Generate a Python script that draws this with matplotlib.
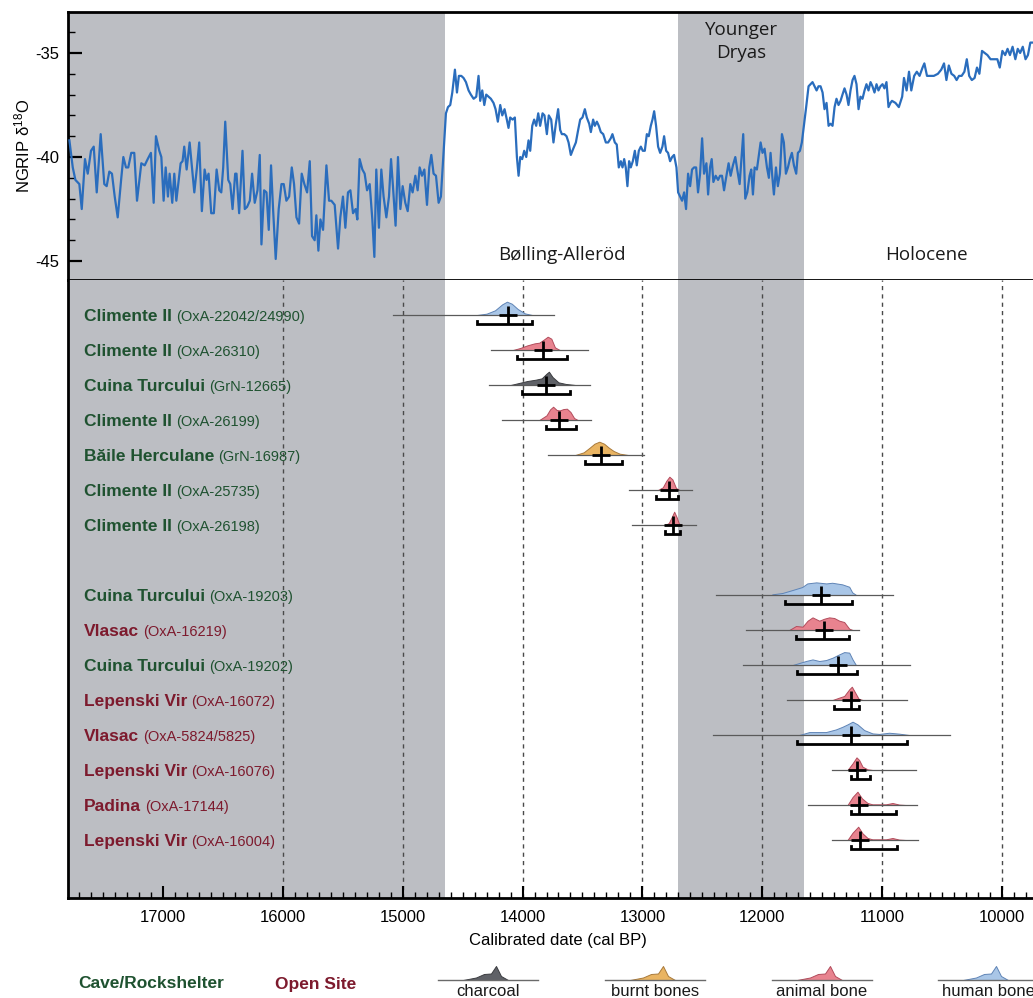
import matplotlib
matplotlib.use("Agg")
import matplotlib.pyplot as plt
from matplotlib.ticker import MultipleLocator, FixedLocator
import matplotlib.transforms as mtransforms

plt.rcParams['axes.unicode_minus'] = False

# NGRIP d18O record (cal BP, per mil)
ngrip_age = [
    17780, 17752, 17730, 17697, 17677, 17650, 17627, 17600, 17577, 17552,
    17519, 17489, 17469, 17447, 17425, 17402, 17377, 17347, 17330, 17308,
    17289, 17264, 17239, 17216, 17180, 17152, 17127, 17100, 17077, 17058,
    17030, 17013, 16994, 16977, 16958, 16944, 16922, 16905, 16888, 16852,
    16836, 16822, 16802, 16777, 16738, 16716, 16697, 16675, 16652, 16636,
    16619, 16597, 16575, 16552, 16530, 16513, 16497, 16480, 16455, 16438,
    16419, 16397, 16386, 16364, 16336, 16317, 16298, 16275, 16256, 16234,
    16211, 16192, 16178, 16156, 16136, 16117, 16098, 16081, 16059, 16034,
    16011, 15992, 15970, 15947, 15925, 15906, 15886, 15864, 15842, 15820,
    15797, 15775, 15756, 15734, 15720, 15703, 15686, 15664, 15636, 15614,
    15595, 15567, 15539, 15520, 15498, 15478, 15456, 15436, 15414, 15392,
    15378, 15359, 15336, 15317, 15297, 15275, 15253, 15236, 15220, 15198,
    15178, 15159, 15136, 15114, 15097, 15081, 15059, 15039, 15019, 15000,
    14978, 14958, 14936, 14917, 14894, 14875, 14858, 14839, 14819, 14797,
    14778, 14761, 14742, 14722, 14700, 14681, 14658, 14639, 14622, 14603,
    14586, 14564, 14547, 14531, 14511, 14492, 14472, 14450, 14431, 14408,
    14386, 14367, 14353, 14336, 14319, 14303, 14283, 14264, 14242, 14225,
    14206, 14186, 14169, 14150, 14131, 14117, 14103, 14083, 14064, 14047,
    14033, 14019, 14003, 13986, 13969, 13950, 13936, 13919, 13903, 13886,
    13869, 13853, 13833, 13817, 13797, 13781, 13761, 13742, 13722, 13703,
    13686, 13672, 13652, 13633, 13616, 13597, 13577, 13555, 13536, 13519,
    13500, 13480, 13464, 13444, 13430, 13411, 13397, 13380, 13364, 13347,
    13327, 13305, 13286, 13264, 13250, 13230, 13214, 13197, 13180, 13166,
    13152, 13139, 13125, 13111, 13097, 13080, 13063, 13047, 13030, 13013,
    12997, 12980, 12963, 12947, 12930, 12916, 12902, 12886, 12869, 12852,
    12833, 12819, 12802, 12786, 12769, 12752, 12736, 12716, 12702, 12686,
    12669, 12652, 12636, 12619, 12602, 12586, 12569, 12552, 12536, 12519,
    12502, 12486, 12466, 12452, 12436, 12422, 12408, 12389, 12369, 12352,
    12336, 12319, 12305, 12281, 12264, 12245, 12225, 12209, 12189, 12175,
    12159, 12142, 12125, 12106, 12092, 12078, 12064, 12045, 12031, 12014,
    11998, 11981, 11961, 11945, 11931, 11917, 11903, 11886, 11870, 11853,
    11836, 11820, 11803, 11786, 11770, 11753, 11736, 11717, 11703, 11686,
    11670, 11653, 11634, 11614, 11598, 11581, 11564, 11547, 11531, 11514,
    11497, 11481, 11464, 11447, 11431, 11414, 11397, 11381, 11364, 11347,
    11331, 11314, 11297, 11281, 11264, 11247, 11231, 11214, 11197, 11181,
    11164, 11147, 11131, 11114, 11097, 11081, 11064, 11047, 11031, 11014,
    10997, 10981, 10964, 10947, 10931, 10918, 10889, 10861, 10833, 10818,
    10796, 10776, 10757, 10733, 10711, 10688, 10663, 10648, 10626, 10598,
    10569, 10535, 10507, 10484, 10464, 10444, 10422, 10399, 10379, 10359,
    10337, 10314, 10294, 10274, 10252, 10229, 10209, 10189, 10167, 10144,
    10122, 10096, 10068, 10039, 10019, 9997, 9974, 9954, 9934, 9912,
    9889, 9869, 9849, 9827, 9804, 9784, 9764, 9747,
]
ngrip_d18o = [
    -39.2, -40.5, -41.1, -41.3, -42.5, -40.1, -40.8, -39.7, -39.5, -41.7,
    -38.9, -41.3, -41.4, -40.7, -40.8, -41.9, -42.9, -41.0, -40.0, -40.5,
    -40.5, -39.8, -39.8, -42.1, -40.3, -40.4, -40.1, -39.8, -42.2, -39.0,
    -39.7, -40.0, -42.1, -40.5, -41.9, -40.8, -42.2, -40.8, -42.1, -40.3,
    -40.2, -39.5, -40.6, -39.3, -41.7, -40.5, -39.3, -42.6, -40.6, -41.1,
    -40.8, -42.7, -42.7, -40.6, -41.6, -41.7, -40.5, -38.3, -41.1, -41.3,
    -42.5, -40.8, -40.8, -42.7, -39.7, -42.5, -42.4, -42.1, -40.8, -42.2,
    -41.6, -39.9, -44.2, -41.6, -41.7, -43.5, -40.4, -42.5, -44.9, -42.5,
    -41.3, -41.3, -42.1, -41.9, -40.5, -41.3, -42.9, -43.2, -40.8, -41.3,
    -41.7, -40.2, -43.8, -44.0, -42.8, -44.5, -43.0, -43.5, -40.4, -42.1,
    -42.1, -42.3, -44.4, -42.9, -41.9, -43.4, -41.7, -41.6, -42.7, -42.5,
    -43.0, -40.1, -40.6, -40.8, -41.6, -41.3, -43.0, -44.8, -40.6, -43.4,
    -40.6, -41.9, -42.9, -41.9, -40.1, -41.4, -43.3, -40.0, -42.5, -41.4,
    -42.2, -42.6, -41.3, -41.7, -40.9, -41.6, -40.5, -40.9, -40.6, -42.3,
    -40.5, -39.9, -40.8, -40.9, -42.2, -41.9, -39.7, -37.9, -37.6, -37.5,
    -36.9, -35.8, -36.9, -36.1, -36.1, -36.2, -36.4, -36.8, -37.0, -37.2,
    -37.1, -36.1, -37.3, -36.8, -37.5, -37.0, -37.1, -37.2, -37.4, -37.7,
    -38.3, -37.5, -38.0, -37.7, -38.2, -38.6, -38.1, -38.2, -38.1, -40.0,
    -40.9, -40.0, -40.1, -39.7, -40.0, -39.2, -39.7, -38.5, -38.2, -38.5,
    -37.9, -38.5, -37.9, -38.0, -38.9, -38.0, -38.2, -39.3, -38.4, -37.7,
    -38.7, -38.9, -38.9, -39.0, -39.3, -39.9, -39.6, -39.3, -38.7, -38.2,
    -38.1, -37.7, -38.1, -38.4, -38.8, -38.2, -38.5, -38.3, -38.5, -38.8,
    -38.9, -39.3, -39.3, -39.1, -38.9, -39.3, -39.4, -40.5, -40.2, -40.5,
    -40.1, -40.5, -41.4, -40.2, -40.5, -40.2, -39.7, -40.4, -39.7, -39.5,
    -39.7, -39.7, -38.9, -39.0, -38.5, -38.2, -37.8, -38.5, -39.5, -39.8,
    -39.5, -39.0, -39.7, -39.8, -40.2, -40.0, -39.9, -40.5, -41.7, -41.9,
    -42.1, -41.7, -42.5, -40.8, -41.4, -40.6, -40.5, -40.5, -41.7, -40.8,
    -39.1, -40.8, -40.3, -41.8, -40.5, -40.1, -41.2, -40.9, -41.1, -40.9,
    -40.9, -41.6, -41.1, -40.3, -40.9, -40.4, -40.0, -40.6, -41.3, -40.2,
    -38.9, -42.0, -41.7, -40.9, -40.6, -41.8, -40.5, -40.6, -40.0, -39.3,
    -39.8, -39.6, -40.5, -41.0, -39.8, -40.9, -41.8, -40.5, -41.4, -40.8,
    -38.9, -39.3, -40.8, -40.5, -40.1, -39.8, -40.4, -40.8, -39.8, -39.7,
    -39.3, -38.5, -37.6, -36.6, -36.5, -36.4, -36.6, -36.8, -36.6, -36.6,
    -36.9, -37.7, -37.4, -38.5, -38.4, -38.5, -37.6, -37.2, -37.5, -37.3,
    -37.0, -36.7, -37.0, -37.5, -36.8, -36.3, -36.1, -36.5, -37.7, -37.1,
    -37.2, -36.8, -36.5, -36.8, -36.4, -36.6, -36.9, -36.5, -36.8, -36.6,
    -36.5, -36.7, -36.4, -37.6, -37.4, -37.3, -37.4, -37.6, -37.1, -36.2,
    -36.8, -35.9, -36.8, -36.1, -35.9, -36.1, -35.7, -35.5, -36.1, -36.1,
    -36.1, -36.0, -35.8, -35.5, -36.3, -35.6, -36.0, -36.1, -36.3, -36.1,
    -36.1, -35.9, -35.3, -36.1, -36.3, -36.2, -35.7, -36.0, -34.9, -35.0,
    -35.1, -35.3, -35.3, -35.3, -35.7, -34.9, -35.1, -34.8, -35.1, -34.7,
    -35.3, -34.8, -35.0, -34.7, -35.3, -35.1, -34.5, -34.5,
]

# climate periods (cal BP)
gs1_start = 14650          # end of GS-2 / start of Bølling
yd_start, yd_end = 12700, 11650

# radiocarbon samples
site_names = ['Climente II', 'Climente II', 'Cuina Turcului', 'Climente II', 'Băile Herculane',
              'Climente II', 'Climente II', 'Cuina Turcului', 'Vlasac', 'Cuina Turcului',
              'Lepenski Vir', 'Vlasac', 'Lepenski Vir', 'Padina', 'Lepenski Vir']
lab_codes = ['OxA-22042/24990', 'OxA-26310', 'GrN-12665', 'OxA-26199', 'GrN-16987',
             'OxA-25735', 'OxA-26198', 'OxA-19203', 'OxA-16219', 'OxA-19202',
             'OxA-16072', 'OxA-5824/5825', 'OxA-16076', 'OxA-17144', 'OxA-16004']
site_type = ['cave'] * 8 + ['open', 'cave', 'open', 'open', 'open', 'open', 'open']
material = ['human', 'animal', 'charcoal', 'animal', 'burnt', 'animal', 'animal',
            'human', 'animal', 'human', 'animal', 'human', 'animal', 'animal', 'animal']
row_pos = [0, 1, 2, 3, 4, 5, 6, 8, 9, 10, 11, 12, 13, 14, 15]
range_old = [15080, 14260, 14280, 14175, 13790, 13115, 13090, 12390, 12135, 12160, 11790, 12410, 11415, 11615, 11415]
range_young = [13735, 13450, 13435, 13425, 12985, 12585, 12550, 10910, 11190, 10765, 10790, 10430, 10715, 10710, 10700]
median_age = [14125, 13833, 13808, 13692, 13342, 12775, 12742, 11508, 11483, 11367, 11258, 11258, 11208, 11192, 11183]
ci95_old = [14383, 14042, 14008, 13808, 13483, 12883, 12808, 11808, 11717, 11708, 11400, 11708, 11258, 11258, 11258]
ci95_young = [13925, 13633, 13600, 13558, 13167, 12700, 12683, 11250, 11275, 11208, 11192, 10792, 11100, 10883, 10875]

# probability distributions (age, relative probability)
dist_age = [
    [14380, 14300, 14230, 14170, 14130, 14090, 14040, 13980, 13920],
    [14080, 14020, 13960, 13900, 13860, 13820, 13790, 13760, 13730, 13690],
    [14100, 14030, 13960, 13890, 13840, 13800, 13780, 13750, 13700, 13640, 13560],
    [13860, 13800, 13770, 13745, 13715, 13690, 13660, 13630, 13600, 13570, 13540],
    [13560, 13490, 13440, 13400, 13360, 13320, 13280, 13240, 13190, 13120],
    [12870, 12830, 12800, 12775, 12750, 12720, 12690],
    [12810, 12780, 12755, 12735, 12715, 12695, 12670],
    [11917, 11833, 11750, 11667, 11625, 11550, 11467, 11417, 11333, 11275, 11250, 11217],
    [11775, 11719, 11664, 11622, 11581, 11525, 11483, 11442, 11400, 11358, 11317, 11275, 11247],
    [11747, 11636, 11581, 11525, 11469, 11414, 11358, 11317, 11275, 11247, 11219],
    [11414, 11358, 11317, 11275, 11253, 11225, 11197, 11164],
    [11692, 11608, 11469, 11386, 11331, 11289, 11247, 11206, 11150, 11081, 11025, 10942, 10858, 10775],
    [11289, 11247, 11214, 11192, 11164, 11122, 11081],
    [11289, 11247, 11206, 11169, 11122, 11081, 10969, 10914, 10858, 10803],
    [11289, 11247, 11200, 11164, 11122, 11081, 10969, 10914, 10858, 10803],
]
dist_prob = [
    [0, 0.1, 0.35, 0.8, 1.0, 0.85, 0.45, 0.12, 0],
    [0, 0.15, 0.35, 0.5, 0.55, 0.8, 1.0, 0.85, 0.2, 0],
    [0, 0.15, 0.3, 0.4, 0.5, 0.85, 1.0, 0.6, 0.2, 0.08, 0],
    [0, 0.35, 0.8, 1.0, 0.75, 0.72, 0.82, 0.85, 0.6, 0.15, 0],
    [0, 0.2, 0.55, 0.85, 1.0, 0.85, 0.55, 0.3, 0.1, 0],
    [0, 0.2, 0.7, 1.0, 0.8, 0.15, 0],
    [0, 0.15, 0.6, 1.0, 0.6, 0.1, 0],
    [0.05, 0.15, 0.37, 0.6, 0.87, 0.95, 0.87, 0.92, 0.8, 0.62, 0.2, 0],
    [0, 0.3, 0.25, 0.7, 0.95, 0.7, 0.85, 0.95, 0.9, 0.7, 0.6, 0.1, 0],
    [0, 0.3, 0.42, 0.3, 0.37, 0.55, 0.8, 0.97, 0.93, 0.42, 0],
    [0, 0.18, 0.3, 0.8, 1.0, 0.55, 0.1, 0],
    [0, 0.22, 0.22, 0.42, 0.62, 0.8, 1.0, 0.8, 0.37, 0.12, 0.08, 0.17, 0.1, 0],
    [0, 0.5, 0.95, 0.75, 0.25, 0.05, 0],
    [0, 0.6, 1.0, 0.5, 0.15, 0.05, 0.05, 0.15, 0.03, 0],
    [0, 0.55, 1.0, 0.5, 0.15, 0.05, 0.05, 0.15, 0.03, 0],
]

# legend entries
legend_materials = ['charcoal', 'burnt', 'animal', 'human']
legend_labels = ['charcoal', 'burnt bones', 'animal bone', 'human bone']
legend_centers = [488, 655, 822, 988]

fill_colors = {'charcoal': '#5f6167', 'burnt': '#e9b462', 'animal': '#e8838f', 'human': '#a9c6e7'}
edge_colors = {'charcoal': '#3b3c40', 'burnt': '#a97a3b', 'animal': '#b24c5c', 'human': '#5f84b6'}
text_colors = {'cave': '#1f5230', 'open': '#7d1a2d'}
shade = '#bcbec3'

W, H = 1033, 998
fig = plt.figure(figsize=(W / 100, H / 100), dpi=100)
fig.patch.set_facecolor('white')

# pixel-to-date frame: 17000 at x=163 px, 120 px per 1000 yr
x_left, x_right = 68, 1040
age_left = 17000 + (163 - x_left) * 1000 / 120
age_right = 10000 - (x_right - 1002) * 1000 / 120

ax_top = fig.add_axes([x_left / W, 1 - 280 / H, (x_right - x_left) / W, (280 - 12) / H])
ax_bot = fig.add_axes([x_left / W, 1 - 898 / H, (x_right - x_left) / W, (898 - 280) / H])

# ---- top panel: NGRIP ----
ax_top.axvspan(age_left, gs1_start, color=shade, lw=0, zorder=0)
ax_top.axvspan(yd_start, yd_end, color=shade, lw=0, zorder=0)
ax_top.plot(ngrip_age, ngrip_d18o, color='#2a6dbd', lw=1.6, zorder=3)
ax_top.set_xlim(age_left, age_right)
ax_top.set_ylim(-45.91, -33.03)
ax_top.yaxis.set_major_locator(FixedLocator([-45, -40, -35]))
ax_top.yaxis.set_minor_locator(MultipleLocator(1))
ax_top.tick_params(axis='y', which='major', direction='in', length=10, width=1.6,
                   labelsize=12, pad=6)
ax_top.tick_params(axis='y', which='minor', direction='in', length=5, width=1.0)
ax_top.tick_params(axis='x', which='both', bottom=False, labelbottom=False)
for lab in ax_top.get_yticklabels():
    lab.set_fontfamily('Liberation Sans')
ax_top.set_ylabel(r'NGRIP $\mathregular{\delta^{18}O}$', fontsize=12,
                  family='Liberation Sans', labelpad=2)
for side in ['top', 'left', 'bottom']:
    ax_top.spines[side].set_linewidth(2)
ax_top.spines['right'].set_visible(False)

period_font = dict(family='Open Sans', fontsize=13.5, color='#1a1a1a')
ax_top.text(0.508, 0.095, 'Bølling-Alleröd', transform=ax_top.transAxes,
            ha='center', va='center', **period_font)
ax_top.text(0.883, 0.095, 'Holocene', transform=ax_top.transAxes,
            ha='center', va='center', **period_font)
ax_top.text((yd_start + yd_end) / 2, -33.45, 'Younger\nDryas', ha='center', va='top',
            linespacing=1.35, **period_font)

# ---- bottom panel: dates ----
ax_bot.axvspan(age_left, gs1_start, color=shade, lw=0, zorder=0)
ax_bot.axvspan(yd_start, yd_end, color=shade, lw=0, zorder=0)
for a in range(16000, 9999, -1000):
    ax_bot.axvline(a, color='#4a4a4a', lw=1, ls=(0, (3, 3)), zorder=1)

ax_bot.set_xlim(age_left, age_right)
ax_bot.set_ylim((898 - 315) / 35, -1)

peak_h = 0.38
br_off = 0.27
cap_h = 0.09
for i in range(len(site_names)):
    r = row_pos[i]
    m = material[i]
    h = [r - p * peak_h for p in dist_prob[i]]
    ax_bot.fill_between(dist_age[i], r, h, facecolor=fill_colors[m],
                        edgecolor=edge_colors[m], lw=0.7, zorder=3)
    ax_bot.plot([range_old[i], range_young[i]], [r, r], color='#5a5a5a', lw=0.9, zorder=4)
    ax_bot.plot(median_age[i], r, marker='+', ms=13, mew=2.0, color='black', zorder=6)
    yb = r + br_off
    ax_bot.plot([ci95_old[i], ci95_old[i], ci95_young[i], ci95_young[i]],
                [yb - cap_h, yb, yb, yb - cap_h], color='black', lw=2.0,
                solid_joinstyle='miter', zorder=5)

    tr = mtransforms.blended_transform_factory(ax_bot.transAxes, ax_bot.transData)
    col = text_colors[site_type[i]]
    t1 = ax_bot.text(0.0165, r + 0.05, site_names[i], transform=tr, ha='left', va='center',
                     fontsize=12.5, fontweight='bold', color=col, family='Liberation Sans',
                     zorder=7)
    ax_bot.annotate('(' + lab_codes[i] + ')', xy=(1, 0.5), xycoords=t1,
                    xytext=(3, 0), textcoords='offset points', ha='left', va='center',
                    fontsize=10.5, color=col, family='Liberation Sans', zorder=7)

ax_bot.xaxis.set_major_locator(MultipleLocator(1000))
ax_bot.xaxis.set_minor_locator(MultipleLocator(100))
ax_bot.tick_params(axis='x', which='major', direction='in', length=9, width=1.5,
                   labelsize=12, pad=9)
ax_bot.tick_params(axis='x', which='minor', direction='in', length=4.5, width=1.0)
ax_bot.set_yticks([])
for lab in ax_bot.get_xticklabels():
    lab.set_fontfamily('Liberation Sans')
ax_bot.spines['top'].set_visible(False)
ax_bot.spines['right'].set_visible(False)
ax_bot.spines['left'].set_linewidth(2)
ax_bot.spines['bottom'].set_linewidth(2)

fig.text(558 / W, 1 - 941 / H, 'Calibrated date (cal BP)', ha='center', va='center',
         fontsize=12, family='Liberation Sans')

# ---- legend ----
ax_leg = fig.add_axes([0, 0, 1, 1], zorder=-1)
ax_leg.set_xlim(0, W)
ax_leg.set_ylim(H, 0)
ax_leg.axis('off')
ax_leg.patch.set_visible(False)

fig.text(78 / W, 1 - 984 / H, 'Cave/Rockshelter', ha='left', va='center', fontsize=12.5,
         fontweight='bold', color=text_colors['cave'], family='Liberation Sans')
fig.text(275 / W, 1 - 984 / H, 'Open Site', ha='left', va='center', fontsize=12.5,
         fontweight='bold', color=text_colors['open'], family='Liberation Sans')

glyph_dx = [-25, -12, -4, 3, 8, 13, 20]
glyph_h = [0, 2.5, 6, 6.5, 14, 4, 0]
for m, lab, cx in zip(legend_materials, legend_labels, legend_centers):
    ax_leg.plot([cx - 50, cx + 50], [980, 980], color='#6a6a6a', lw=1.0)
    gx = [cx + d for d in glyph_dx]
    gy = [980 - g for g in glyph_h]
    ax_leg.fill_between(gx, 980, gy, facecolor=fill_colors[m], edgecolor=edge_colors[m], lw=0.7)
    ax_leg.text(cx, 991, lab, ha='center', va='center', fontsize=12,
                family='Liberation Sans', color='#1a1a1a')

fig.savefig('out.png', dpi=100)
